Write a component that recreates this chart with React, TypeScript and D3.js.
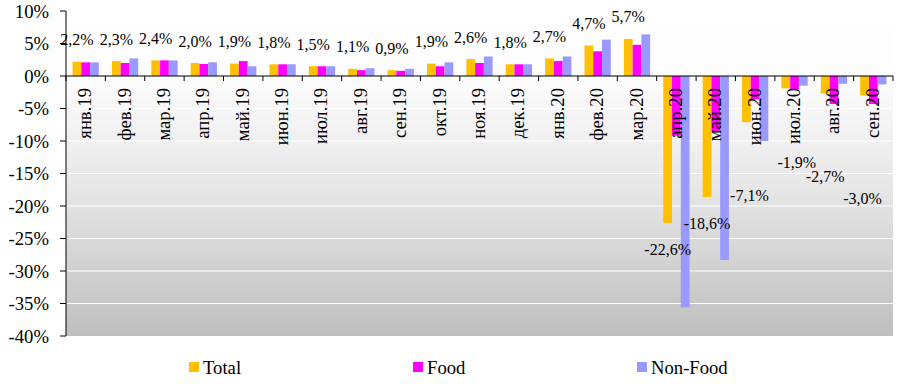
import React from 'react';
import * as d3 from 'd3';

// months, Jan 2019 .. Sep 2020
const categories = [
  'янв.19', 'фев.19', 'мар.19', 'апр.19', 'май.19', 'июн.19', 'июл.19',
  'авг.19', 'сен.19', 'окт.19', 'ноя.19', 'дек.19', 'янв.20', 'фев.20',
  'мар.20', 'апр.20', 'май.20', 'июн.20', 'июл.20', 'авг.20', 'сен.20',
];

const totalValues = [
  2.2, 2.3, 2.4, 2.0, 1.9, 1.8, 1.5, 1.1, 0.9, 1.9, 2.6, 1.8, 2.7, 4.7,
  5.7, -22.6, -18.6, -7.1, -1.9, -2.7, -3.0,
];
const foodValues = [
  2.1, 2.0, 2.4, 1.85, 2.3, 1.8, 1.5, 0.9, 0.8, 1.5, 2.0, 1.8, 2.3, 3.8,
  4.8, -9.2, -8.5, -3.6, -2.0, -4.3, -4.3,
];
const nonFoodValues = [
  2.1, 2.7, 2.4, 2.1, 1.5, 1.8, 1.5, 1.2, 1.1, 2.1, 3.0, 1.8, 3.0, 5.6,
  6.4, -35.6, -28.3, -10.0, -1.5, -1.2, -1.3,
];

const seriesNames = ['Total', 'Food', 'Non-Food'];
const yTicks = [10, 5, 0, -5, -10, -15, -20, -25, -30, -35, -40];

// hand-dragged data labels (layout only)
const labelNudge: Record<string, [number, number]> = {
  'июн.20': [3, 46],
  'июл.20': [11, 47],
  'авг.20': [0, 56],
  'сен.20': [-2, 76],
};

const colors: Record<string, string> = {
  Total: '#ffc000',
  Food: '#ff00ff',
  'Non-Food': '#9999ff',
};

const txt: React.CSSProperties = {
  fontFamily: '"Liberation Serif", "Times New Roman", Times, serif',
};
const fmt = (v: number) => v.toFixed(1).replace('.', ',') + '%';

export default function App() {
  const width = 901;
  const height = 387;
  const plot = { left: 66, right: 893, top: 11, bottom: 336 };

  const seriesValues = [totalValues, foodValues, nonFoodValues];

  const x = d3.scaleBand<string>()
    .domain(categories)
    .range([plot.left, plot.right])
    .padding(0);

  // excel gap width 150% -> outer padding 0.75 step on each side
  const xs = d3.scaleBand<string>()
    .domain(seriesNames)
    .range([0, x.bandwidth()])
    .paddingInner(0)
    .paddingOuter(0.75);

  const y = d3.scaleLinear()
    .domain([-40, 10])
    .range([plot.bottom, plot.top]);

  const y0 = y(0);

  return (
    <svg
      width={width}
      height={height}
      style={{ position: 'absolute', left: 0, top: 0, background: '#fff' }}
    >
      <defs>
        <linearGradient id="plotBg" x1="0" y1="0" x2="0" y2="1">
          <stop offset="0" stopColor="#ffffff" />
          <stop offset="0.22" stopColor="#fcfcfc" />
          <stop offset="0.55" stopColor="#e6e6e6" />
          <stop offset="1" stopColor="#bfbfbf" />
        </linearGradient>
      </defs>

      <rect
        x={plot.left}
        y={plot.top}
        width={plot.right - plot.left}
        height={plot.bottom - plot.top}
        fill="url(#plotBg)"
      />

      {/* white gridlines */}
      {yTicks.filter(t => t !== 0 && t !== -40).map(t => (
        <line key={t} x1={plot.left} x2={plot.right} y1={y(t)} y2={y(t)} stroke="#fff" strokeWidth={1.2} />
      ))}

      {/* bars */}
      {seriesNames.map((s, si) => (
        <g key={s}>
          {categories.map((c, i) => {
            const v = seriesValues[si][i];
            const bx = (x(c) ?? 0) + (xs(s) ?? 0);
            return (
              <rect
                key={c}
                x={bx}
                y={Math.min(y(v), y0)}
                width={xs.bandwidth()}
                height={Math.abs(y(v) - y0)}
                fill={colors[s]}
              />
            );
          })}
        </g>
      ))}

      {/* y axis */}
      <line x1={plot.left} x2={plot.left} y1={plot.top} y2={plot.bottom} stroke="#000" />
      {yTicks.map(t => (
        <g key={t}>
          <line x1={plot.left - 6} x2={plot.left} y1={y(t)} y2={y(t)} stroke="#000" />
          <text
            x={plot.left - 17}
            y={y(t)}
            textAnchor="end"
            dominantBaseline="central"
            fontSize={18.67}
            fill="#000"
            style={txt}
          >
            {t + '%'}
          </text>
        </g>
      ))}

      {/* x axis at zero */}
      <line x1={plot.left} x2={plot.right} y1={y0} y2={y0} stroke="#000" />
      {categories.map(c => (
        <line
          key={c}
          x1={x(c) ?? 0}
          x2={x(c) ?? 0}
          y1={y0}
          y2={y0 + 5}
          stroke="#000"
        />
      ))}
      <line x1={plot.right} x2={plot.right} y1={y0} y2={y0 + 5} stroke="#000" />

      {/* category labels */}
      {categories.map(c => {
        const cx = (x(c) ?? 0) + x.bandwidth() / 2 - 1;
        const ty = y0 + 12;
        return (
          <text
            key={c}
            transform={`translate(${cx},${ty}) rotate(-90)`}
            textAnchor="end"
            dominantBaseline="central"
            fontSize={18.67}
            fill="#000"
            style={txt}
          >
            {c}
          </text>
        );
      })}

      {/* data labels for Total */}
      {categories.map((c, i) => {
        const v = totalValues[i];
        const [dx, dy] = labelNudge[c] ?? [0, 0];
        const lx = (x(c) ?? 0) + (xs('Total') ?? 0) + xs.bandwidth() / 2 + dx;
        const ly = (v >= 0 ? y(v) - 22 : y(v) + 27) + dy;
        return (
          <text
            key={c}
            x={lx}
            y={ly}
            textAnchor="middle"
            dominantBaseline="central"
            fontSize={16}
            fill="#000"
            style={txt}
          >
            {fmt(v)}
          </text>
        );
      })}

      {/* legend */}
      {seriesNames.map((s, i) => {
        const lx = 189 + i * 224;
        return (
          <g key={s}>
            <rect x={lx} y={362} width={10} height={10} fill={colors[s]} />
            <text x={lx + 14} y={367} dominantBaseline="central" fontSize={18.67} fill="#000" style={txt}>
              {s}
            </text>
          </g>
        );
      })}
    </svg>
  );
}
